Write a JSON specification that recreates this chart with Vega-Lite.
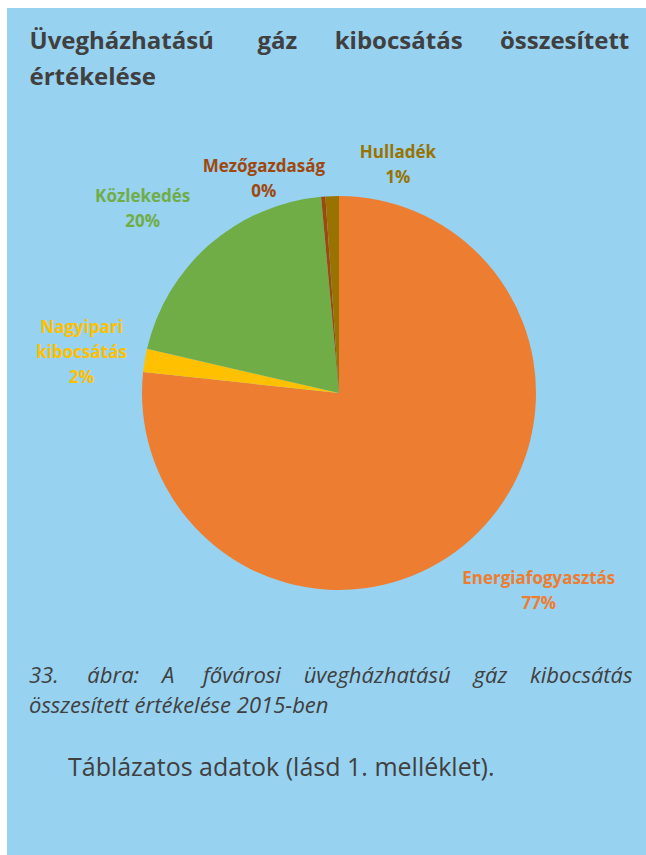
{
  "$schema": "https://vega.github.io/schema/vega-lite/v6.json",
  "autosize": {"type": "none"},
  "width": 639,
  "height": 847,
  "padding": {"left": 7, "top": 8, "right": 0, "bottom": 0},
  "background": "#FFFFFF",
  "view": {"fill": "#98D2F1", "stroke": "transparent", "strokeWidth": 0},
  "config": {"font": "Open Sans", "view": {"stroke": "transparent", "strokeWidth": 0}},
  "data": {
    "values": [
      {"cat": "Energiafogyasztás", "value": 76.7, "order": 1, "label": "Energiafogyasztás\n77%"},
      {"cat": "Nagyipari kibocsátás", "value": 1.9, "order": 2, "label": "Nagyipari\nkibocsátás\n2%"},
      {"cat": "Közlekedés", "value": 19.95, "order": 3, "label": "Közlekedés\n20%"},
      {"cat": "Mezőgazdaság", "value": 0.35, "order": 4, "label": "Mezőgazdaság\n0%"},
      {"cat": "Hulladék", "value": 1.1, "order": 5, "label": "Hulladék\n1%"}
    ]
  },
  "title": {
    "text": ["33.\u00a0\u00a0\u00a0\u00a0\u00a0ábra:\u00a0\u00a0\u00a0\u00a0A\u00a0\u00a0\u00a0\u00a0\u00a0fővárosi\u00a0\u00a0\u00a0\u00a0üvegházhatású\u00a0\u00a0\u00a0\u00a0gáz\u00a0\u00a0\u00a0\u00a0kibocsátás", "összesített értékelése 2015-ben"],
    "orient": "bottom",
    "anchor": "start",
    "frame": "group",
    "dx": 22,
    "offset": -172,
    "baseline": "alphabetic",
    "font": "Open Sans",
    "fontSize": 22,
    "fontStyle": "italic",
    "fontWeight": "normal",
    "color": "#404040",
    "lineHeight": 30,
    "subtitle": "\u200b\u00a0\u00a0\u00a0\u00a0\u00a0\u00a0Táblázatos adatok (lásd 1. melléklet).",
    "subtitleFont": "Open Sans",
    "subtitleFontSize": 25,
    "subtitleColor": "#404040",
    "subtitlePadding": 41
  },
  "layer": [
    {
      "mark": {"type": "point", "opacity": 0},
      "encoding": {
        "x": {
          "field": "value",
          "type": "quantitative",
          "axis": {
            "orient": "top",
            "labels": false,
            "ticks": false,
            "domain": false,
            "grid": false,
            "title": ["Üvegházhatású\u00a0\u00a0\u00a0\u00a0\u00a0\u00a0\u00a0gáz\u00a0\u00a0\u00a0\u00a0\u00a0\u00a0kibocsátás\u00a0\u00a0\u00a0\u00a0\u00a0\u00a0összesített", "értékelése"],
            "titleFont": "Open Sans",
            "titleFontSize": 24,
            "titleFontWeight": "bold",
            "titleColor": "#404040",
            "titleAnchor": "start",
            "titleAlign": "left",
            "titleBaseline": "alphabetic",
            "titlePadding": -76,
            "titleLineHeight": 36,
            "titleX": 22
          }
        }
      }
    },
    {
      "mark": {"type": "arc", "outerRadius": 197, "xOffset": 12.5, "yOffset": -38.5},
      "encoding": {
        "theta": {"field": "value", "type": "quantitative", "stack": true},
        "order": {"field": "order", "type": "quantitative"},
        "color": {
          "field": "cat",
          "type": "nominal",
          "scale": {
            "domain": ["Energiafogyasztás", "Nagyipari kibocsátás", "Közlekedés", "Mezőgazdaság", "Hulladék"],
            "range": ["#ED7D31", "#FFC000", "#70AD47", "#9E480E", "#997300"]
          },
          "legend": null
        }
      }
    },
    {
      "mark": {"type": "text", "radius": 281, "dx": 24.5, "dy": -61.5, "fontWeight": "bold", "fontSize": 17, "lineHeight": 25, "lineBreak": "\n", "align": "center", "baseline": "middle"},
      "encoding": {
        "theta": {"field": "value", "type": "quantitative", "stack": true},
        "order": {"field": "order", "type": "quantitative"},
        "color": {"field": "cat", "type": "nominal", "legend": null},
        "text": {"condition": {"test": "datum.cat === 'Energiafogyasztás'", "field": "label"}, "value": ""}
      }
    },
    {
      "mark": {"type": "text", "radius": 260, "dx": 11.5, "dy": -60.5, "fontWeight": "bold", "fontSize": 17, "lineHeight": 25, "lineBreak": "\n", "align": "center", "baseline": "middle"},
      "encoding": {
        "theta": {"field": "value", "type": "quantitative", "stack": true},
        "order": {"field": "order", "type": "quantitative"},
        "color": {"field": "cat", "type": "nominal", "legend": null},
        "text": {"condition": {"test": "datum.cat === 'Nagyipari kibocsátás'", "field": "label"}, "value": ""}
      }
    },
    {
      "mark": {"type": "text", "radius": 268, "dx": -7.5, "dy": -32.5, "fontWeight": "bold", "fontSize": 17, "lineHeight": 25, "lineBreak": "\n", "align": "center", "baseline": "middle"},
      "encoding": {
        "theta": {"field": "value", "type": "quantitative", "stack": true},
        "order": {"field": "order", "type": "quantitative"},
        "color": {"field": "cat", "type": "nominal", "legend": null},
        "text": {"condition": {"test": "datum.cat === 'Közlekedés'", "field": "label"}, "value": ""}
      }
    },
    {
      "mark": {"type": "text", "radius": 227, "dx": -44.5, "dy": -38.5, "fontWeight": "bold", "fontSize": 17, "lineHeight": 25, "lineBreak": "\n", "align": "center", "baseline": "middle"},
      "encoding": {
        "theta": {"field": "value", "type": "quantitative", "stack": true},
        "order": {"field": "order", "type": "quantitative"},
        "color": {"field": "cat", "type": "nominal", "legend": null},
        "text": {"condition": {"test": "datum.cat === 'Mezőgazdaság'", "field": "label"}, "value": ""}
      }
    },
    {
      "mark": {"type": "text", "radius": 234, "dx": 79.5, "dy": -44.5, "fontWeight": "bold", "fontSize": 17, "lineHeight": 25, "lineBreak": "\n", "align": "center", "baseline": "middle"},
      "encoding": {
        "theta": {"field": "value", "type": "quantitative", "stack": true},
        "order": {"field": "order", "type": "quantitative"},
        "color": {"field": "cat", "type": "nominal", "legend": null},
        "text": {"condition": {"test": "datum.cat === 'Hulladék'", "field": "label"}, "value": ""}
      }
    }
  ]
}
